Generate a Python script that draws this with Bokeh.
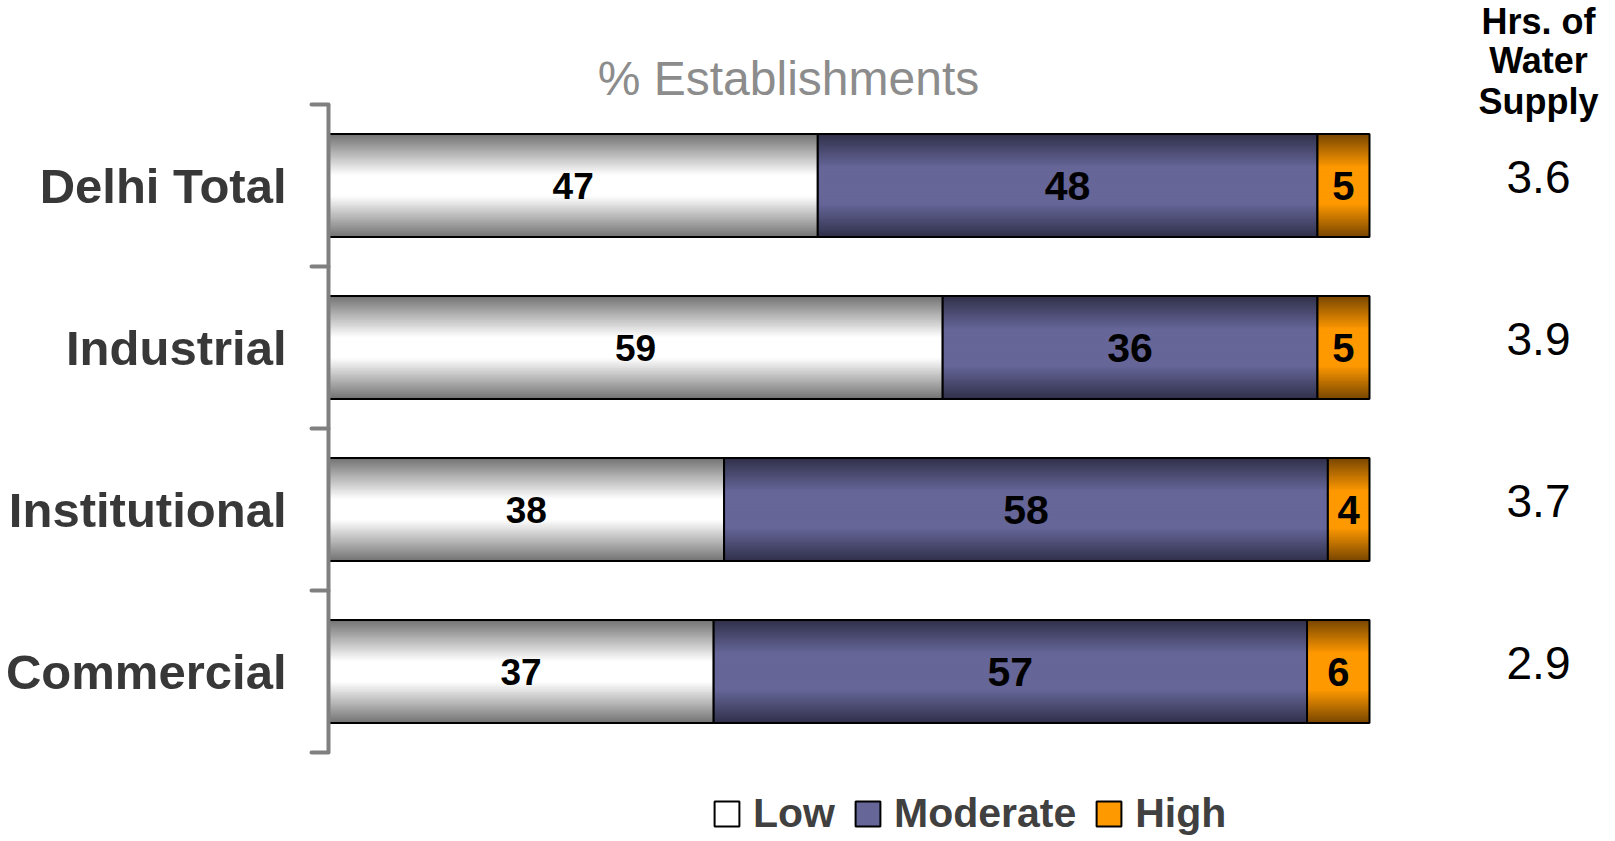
import numpy as np
from bokeh.plotting import figure
from bokeh.models import (ColumnDataSource, Range1d, LinearAxis, FixedTicker,
                          Label, Legend, LegendItem)
from bokeh.core.properties import value
from bokeh.embed import file_html
from bokeh.resources import INLINE

# ---- data -------------------------------------------------------------
categories = ["Delhi Total", "Industrial", "Institutional", "Commercial"]
low = [47, 59, 38, 37]
moderate = [48, 36, 58, 57]
high = [5, 5, 4, 6]
supply_hours = [3.6, 3.9, 3.7, 2.9]
series_names = ["Low", "Moderate", "High"]

# ---- layout / styling ---------------------------------------------------
W, H = 1615, 841
FONT = "Liberation Sans"
BAR_H = 0.636
N_LAYERS = 30
PX_PER_PCT = 10.41      # horizontal scale
PX_PER_ROW = 162.0      # vertical scale
ORIGIN_X, TOP_Y = 328, 104   # where 0 % and the top of the first row sit

# (edge colour, centre colour, reach) of each segment's vertical shading
SHADES = {
    "Low": ((0x72, 0x72, 0x72), (0xFF, 0xFF, 0xFF), 0.8),
    "Moderate": ((0x30, 0x30, 0x4A), (0x66, 0x66, 0x99), 0.65),
    "High": ((0x78, 0x46, 0x00), (0xFF, 0x99, 0x00), 0.65),
}
LABEL_SIZES = {"Low": "37px", "Moderate": "41px", "High": "40px"}


def mix(a, b, t):
    r, g, bl = (int(round(a[i] + (b[i] - a[i]) * t)) for i in range(3))
    return f"#{r:02x}{g:02x}{bl:02x}"


def px_x(px):
    return (px - ORIGIN_X) / PX_PER_PCT


def px_y(py):
    return 0.5 + (py - TOP_Y) / PX_PER_ROW


ys = np.arange(1, len(categories) + 1)
low_a, mod_a, high_a = np.array(low), np.array(moderate), np.array(high)
segments = {
    "Low": (np.zeros_like(low_a), low_a),
    "Moderate": (low_a, low_a + mod_a),
    "High": (low_a + mod_a, low_a + mod_a + high_a),
}

p = figure(width=W, height=H,
           x_range=Range1d(px_x(0), px_x(W)),
           y_range=Range1d(px_y(H), px_y(0)),
           x_axis_location=None, y_axis_location=None,
           toolbar_location=None, output_backend="svg",
           min_border_left=0, min_border_right=0,
           min_border_top=0, min_border_bottom=0)
p.outline_line_color = None
p.xgrid.visible = False
p.ygrid.visible = False
p.background_fill_color = "white"
p.border_fill_color = "white"

# category axis drawn as a bracket at 0 %: minor ticks mark the row boundaries
yaxis = LinearAxis(
    ticker=FixedTicker(ticks=list(ys), minor_ticks=[0.5, 1.5, 2.5, 3.5, 4.5]),
    major_label_overrides={int(y): c for y, c in zip(ys, categories)},
    fixed_location=0, bounds=(0.5, 4.5),
)
yaxis.axis_line_color = "#808080"
yaxis.axis_line_width = 4
yaxis.major_tick_line_color = None
yaxis.major_tick_out = 0
yaxis.major_tick_in = 0
yaxis.minor_tick_line_color = "#808080"
yaxis.minor_tick_line_width = 4
yaxis.minor_tick_line_cap = "round"
yaxis.minor_tick_out = 17
yaxis.minor_tick_in = 0
yaxis.major_label_standoff = 25
yaxis.major_label_text_font = FONT
yaxis.major_label_text_font_size = "49px"
yaxis.major_label_text_font_style = "bold"
yaxis.major_label_text_color = "#383838"
p.add_layout(yaxis, "left")

legend_items = []
for name in series_names:
    left, right = segments[name]
    src = ColumnDataSource(dict(y=ys, left=left, right=right,
                                mid=(left + right) / 2,
                                txt=[str(v) for v in (right - left)]))
    edge, centre, reach = SHADES[name]
    centre_r = None
    for k in range(N_LAYERS):
        t = min(1.0, ((k + 0.5) / N_LAYERS) / reach)
        r = p.hbar(y="y", left="left", right="right",
                   height=BAR_H * (1 - k / N_LAYERS),
                   fill_color=mix(edge, centre, t), line_color=None, source=src)
        centre_r = r
    outline = p.hbar(y="y", left="left", right="right", height=BAR_H,
                     fill_color=None, line_color="black", line_width=2, source=src)
    p.text(x="mid", y="y", text="txt", source=src,
           text_align="center", text_baseline="middle",
           text_font=value(FONT), text_font_style="bold",
           text_font_size=LABEL_SIZES[name], text_color="black")
    legend_items.append(LegendItem(label=name, renderers=[centre_r, outline]))

# hours of water supply column
HRS_X = px_x(1538)
hrs_src = ColumnDataSource(dict(x=[HRS_X] * len(ys), y=ys - 0.05,
                                txt=[f"{h:.1f}" for h in supply_hours]))
p.text(x="x", y="y", text="txt", source=hrs_src,
       text_align="center", text_baseline="middle",
       text_font=value(FONT), text_font_size="46px", text_color="black")

for txt, py in (("Hrs. of", 21), ("Water", 60), ("Supply", 101)):
    p.add_layout(Label(x=HRS_X, y=px_y(py), text=txt, text_align="center",
                       text_baseline="middle", text_font=FONT,
                       text_font_size="36px", text_font_style="bold",
                       text_color="black"))

p.add_layout(Label(x=px_x(788), y=px_y(78), text="% Establishments",
                   text_align="center", text_baseline="middle",
                   text_font=FONT, text_font_size="48px",
                   text_color="#8c8c8c"))

legend = Legend(items=legend_items, orientation="horizontal",
                location=(711, 4), glyph_width=31, glyph_height=31,
                label_standoff=11, spacing=17, padding=0, margin=0,
                border_line_color=None, background_fill_alpha=0,
                label_text_font=FONT, label_text_font_size="41px",
                label_text_font_style="bold", label_text_color="#404040")
p.add_layout(legend)

open("out.html", "w").write(file_html(p, INLINE))
